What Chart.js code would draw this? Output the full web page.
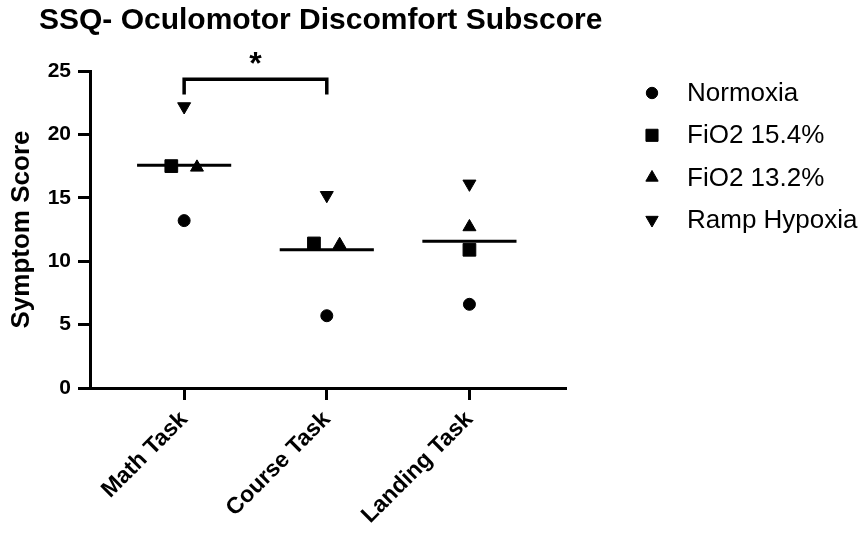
<!DOCTYPE html>
<html>
<head>
<meta charset="utf-8">
<script src="https://cdn.jsdelivr.net/npm/chart.js@4/dist/chart.umd.min.js"></script>
<style>
  html, body { margin: 0; padding: 0; background: #fff; }
  #wrap { width: 865px; height: 535px; }
</style>
</head>
<body>
<div id="wrap"><canvas id="myChart" width="865" height="535"></canvas></div>
<script>
// Tasks on the x axis and subscores per oxygen condition
const tasks = ['Math Task', 'Course Task', 'Landing Task'];
const seriesNames = ['Normoxia', 'FiO2 15.4%', 'FiO2 13.2%', 'Ramp Hypoxia'];
const normoxia = [13.2, 5.7, 6.6];
const fio2_154 = [17.5, 11.4, 10.9];
const fio2_132 = [17.4, 11.3, 12.7];
const rampHypoxia = [22.2, 15.2, 16.1];
const yTicks = [0, 5, 10, 15, 20, 25];

// significance bracket between Math Task and Course Task
const sigPair = [1, 2];
const sigLabel = '*';

const seriesValues = [normoxia, fio2_154, fio2_132, rampHypoxia];
// sideways nudge so overlapping markers stay visible
const jitter = [[0, 0, 0], [-0.09, -0.09, 0], [0.09, 0.09, 0], [0, 0, 0]];
const styles = [
  { pointStyle: 'circle', radius: 6, rotation: 0 },
  { pointStyle: 'rect', radius: 9, rotation: 0 },
  { pointStyle: 'triangle', radius: 7.5, rotation: 0 },
  { pointStyle: 'triangle', radius: 7.5, rotation: 180 }
];

const FONT = "'Liberation Sans', Arial, Helvetica, sans-serif";
Chart.defaults.color = '#000';
Chart.defaults.font.family = FONT;

const pointSets = seriesValues.map((vals, s) => ({
  type: 'scatter',
  label: seriesNames[s],
  data: vals.map((v, i) => ({ x: i + 1 + jitter[s][i], y: v })),
  pointStyle: styles[s].pointStyle,
  pointRadius: styles[s].radius,
  pointRotation: styles[s].rotation,
  pointBackgroundColor: '#000',
  pointBorderColor: '#000',
  pointBorderWidth: 1,
  pointHoverRadius: styles[s].radius,
  clip: false
}));

// mean line across each task column
const meanData = [];
tasks.forEach((t, i) => {
  const m = seriesValues.reduce((a, s) => a + s[i], 0) / seriesValues.length;
  meanData.push({ x: i + 1 - 0.33, y: m }, { x: i + 1 + 0.33, y: m }, { x: i + 1.5, y: null });
});

const bracketTop = 24.35, bracketFoot = 23.15;
const bracketData = [
  { x: sigPair[0], y: bracketFoot }, { x: sigPair[0], y: bracketTop },
  { x: sigPair[1], y: bracketTop }, { x: sigPair[1], y: bracketFoot }
];

const lineSets = [
  { type: 'line', label: 'mean', data: meanData, borderColor: '#000', borderWidth: 3,
    pointRadius: 0, spanGaps: false, fill: false },
  { type: 'line', label: 'bracket', data: bracketData, borderColor: '#000', borderWidth: 3.5,
    pointRadius: 0, fill: false, clip: false, borderJoinStyle: 'miter', borderCapStyle: 'butt' }
];

// title, significance mark and legend
const decorations = {
  id: 'decorations',
  afterDraw(chart) {
    const ctx = chart.ctx;
    const xs = chart.scales.x, ys = chart.scales.y;
    ctx.save();
    ctx.fillStyle = '#000';
    ctx.textAlign = 'left';
    ctx.textBaseline = 'alphabetic';
    ctx.font = 'bold 30px ' + FONT;
    ctx.fillText('SSQ- Oculomotor Discomfort Subscore', 39, 29);

    ctx.textAlign = 'center';
    ctx.font = 'bold 32px ' + FONT;
    ctx.fillText(sigLabel, xs.getPixelForValue((sigPair[0] + sigPair[1]) / 2),
      ys.getPixelForValue(bracketTop) - 5);

    ctx.textAlign = 'left';
    ctx.textBaseline = 'middle';
    ctx.font = '26px ' + FONT;
    seriesNames.forEach((name, s) => {
      const y = 93 + s * 42.3;
      ctx.fillStyle = '#000';
      ctx.strokeStyle = '#000';
      ctx.lineWidth = 1;
      Chart.helpers.drawPoint(ctx, {
        pointStyle: styles[s].pointStyle,
        radius: styles[s].radius * 0.95,
        rotation: styles[s].rotation,
        borderWidth: 1
      }, 652, y);
      ctx.fillText(name, 687, y + 1);
    });
    ctx.restore();
  }
};

const ctx = document.getElementById('myChart').getContext('2d');
const chart = new Chart(ctx, {
  data: { datasets: [...lineSets, ...pointSets] },
  options: {
    responsive: false,
    animation: false,
    layout: { padding: { top: 71, right: 300, bottom: 0, left: 0 } },
    plugins: { legend: { display: false }, tooltip: { enabled: false }, title: { display: false } },
    scales: {
      x: {
        type: 'linear',
        min: 0.34,
        max: 3.67,
        afterBuildTicks: (scale) => { scale.ticks = tasks.map((t, i) => ({ value: i + 1 })); },
        afterFit: (scale) => { scale.height = 147; },
        ticks: {
          callback: (v) => tasks[v - 1],
          minRotation: 45,
          maxRotation: 45,
          padding: 6,
          font: { size: 23, weight: 'bold' },
          color: '#000'
        },
        grid: { drawOnChartArea: false, drawTicks: true, tickLength: 12, lineWidth: 3, color: '#000' },
        border: { display: true, width: 3, color: '#000' }
      },
      y: {
        min: 0,
        max: 25,
        afterBuildTicks: (scale) => { scale.ticks = yTicks.map(v => ({ value: v })); },
        afterFit: (scale) => { scale.width = 90; },
        ticks: { padding: 7, font: { size: 21, weight: 'bold' }, color: '#000' },
        grid: { drawOnChartArea: false, drawTicks: true, tickLength: 12, lineWidth: 3, color: '#000' },
        border: { display: true, width: 3, color: '#000' },
        title: {
          display: true,
          text: 'Symptom Score',
          font: { size: 26, weight: 'bold' },
          color: '#000',
          padding: { top: 6, bottom: 0 }
        }
      }
    }
  },
  plugins: [decorations]
});
</script>
</body>
</html>
